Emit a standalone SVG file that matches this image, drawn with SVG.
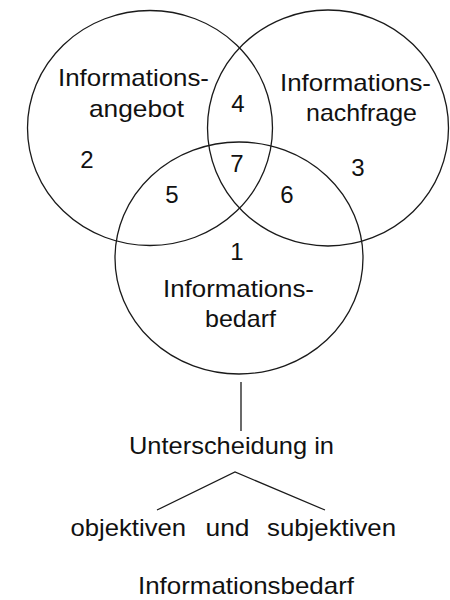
<svg xmlns="http://www.w3.org/2000/svg" width="450" height="600" viewBox="0 0 450 600">
  <style>
    .set { fill: none; stroke: #1a1a1a; stroke-width: 1.3; }
    .link { fill: none; stroke: #1a1a1a; stroke-width: 1.3; }
    text { font-family: "Liberation Sans", Arial, sans-serif; font-size: 24px; fill: #111; }
    .num { text-anchor: middle; }
  </style>
  <rect width="450" height="600" fill="#ffffff"/>

  <!-- Venn sets -->
  <g id="angebot">
    <ellipse class="set" cx="150" cy="128" rx="122.5" ry="117.5"/>
    <text x="58" y="86" textLength="151" lengthAdjust="spacingAndGlyphs">Informations-</text>
    <text x="89" y="117" textLength="95" lengthAdjust="spacingAndGlyphs">angebot</text>
  </g>
  <g id="nachfrage">
    <ellipse class="set" cx="328" cy="128" rx="120.5" ry="118"/>
    <text x="280" y="91" textLength="151" lengthAdjust="spacingAndGlyphs">Informations-</text>
    <text x="306" y="121" textLength="111" lengthAdjust="spacingAndGlyphs">nachfrage</text>
  </g>
  <g id="bedarf">
    <ellipse class="set" cx="239" cy="258" rx="124" ry="116"/>
    <text x="163" y="297" textLength="151" lengthAdjust="spacingAndGlyphs">Informations-</text>
    <text x="205" y="327" textLength="71" lengthAdjust="spacingAndGlyphs">bedarf</text>
  </g>

  <!-- region numbers -->
  <g id="regions">
    <text class="num" x="237" y="260">1</text>
    <text class="num" x="87" y="168">2</text>
    <text class="num" x="358" y="176">3</text>
    <text class="num" x="238" y="112">4</text>
    <text class="num" x="172" y="203">5</text>
    <text class="num" x="287" y="203">6</text>
    <text class="num" x="237" y="172">7</text>
  </g>

  <!-- connectors -->
  <g id="connectors">
    <line class="link" x1="241" y1="382" x2="241" y2="431"/>
    <polyline class="link" points="157,510 235,472 325,510"/>
  </g>

  <g id="unterscheidung">
    <text x="129" y="454" textLength="205" lengthAdjust="spacingAndGlyphs">Unterscheidung in</text>
  </g>
  <g id="objektiv">
    <text x="70.5" y="536" textLength="115.5" lengthAdjust="spacingAndGlyphs">objektiven</text>
  </g>
  <g id="und">
    <text x="205.5" y="536" textLength="44" lengthAdjust="spacingAndGlyphs">und</text>
  </g>
  <g id="subjektiv">
    <text x="267" y="536" textLength="129" lengthAdjust="spacingAndGlyphs">subjektiven</text>
  </g>
  <g id="informationsbedarf">
    <text x="138" y="594" textLength="216" lengthAdjust="spacingAndGlyphs">Informationsbedarf</text>
  </g>
</svg>
